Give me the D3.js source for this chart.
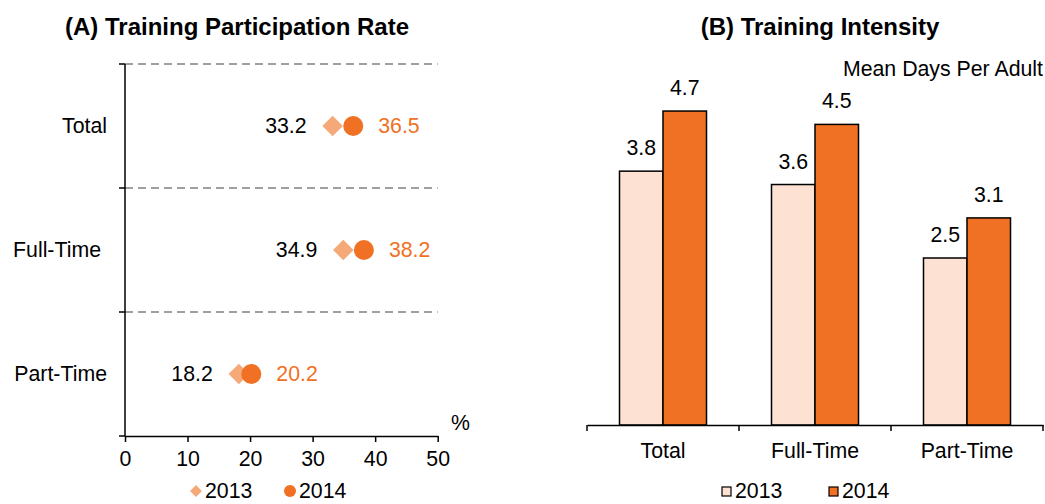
<!DOCTYPE html>
<html>
<head>
<meta charset="utf-8">
<script src="https://cdn.jsdelivr.net/npm/d3@7"></script>
<style>
  body { margin: 0; background: #fff; }
  svg text { font-family: "Liberation Sans", Arial, sans-serif; }
</style>
</head>
<body>
<div id="chart"></div>
<script>
// data
var categories = ["Total", "Full-Time", "Part-Time"];
var years = ["2013", "2014"];
var rate2013 = [33.2, 34.9, 18.2];
var rate2014 = [36.5, 38.2, 20.2];
var days2013 = [3.8, 3.6, 2.5];
var days2014 = [4.7, 4.5, 3.1];
var rateTicks = [0, 10, 20, 30, 40, 50];

var lightOrange = "#f5a878";
var orange = "#f07123";
var peach = "#fde1d3";

var svg = d3.select("#chart")
    .append("svg")
    .attr("width", 1045)
    .attr("height", 504);

var fontSize = "21.3px";

/////////////// PANEL A: PARTICIPATION RATE /////////////////////////

var xA = d3.scaleLinear()
    .domain([0, 50])
    .range([125, 437.7]);

var yA = d3.scaleBand()
    .domain(categories)
    .range([64, 436]);

svg.append("text")
    .attr("x", 237)
    .attr("y", 35)
    .attr("text-anchor", "middle")
    .style("font-size", "24px")
    .style("font-weight", "bold")
    .text("(A) Training Participation Rate");

// dashed separators
var bounds = categories.map(c => yA(c));
svg.selectAll("line.grid")
    .data(bounds)
    .enter()
    .append("line")
    .attr("class", "grid")
    .attr("x1", xA(0))
    .attr("x2", xA(50))
    .attr("y1", d => d)
    .attr("y2", d => d)
    .attr("stroke", "#808080")
    .attr("stroke-width", 1.3)
    .attr("stroke-dasharray", "8,5");

// x axis
var xAxis = d3.axisBottom(xA)
    .tickValues(rateTicks)
    .tickSize(6)
    .tickPadding(9)
    .tickSizeOuter(0);

var gx = svg.append("g")
    .attr("transform", "translate(0,436)")
    .call(xAxis);
gx.select(".domain").attr("stroke", "#000").attr("stroke-width", 1.5);
gx.selectAll(".tick line").attr("stroke", "#000").attr("stroke-width", 1.5);
gx.selectAll(".tick text").style("font-size", fontSize).attr("fill", "#000")
    .attr("font-family", null);

// y axis line + ticks at boundaries
svg.append("line")
    .attr("x1", xA(0)).attr("x2", xA(0))
    .attr("y1", 64).attr("y2", 436)
    .attr("stroke", "#000").attr("stroke-width", 1.5);

svg.selectAll("line.ytick")
    .data(bounds.concat([436]))
    .enter()
    .append("line")
    .attr("class", "ytick")
    .attr("x1", xA(0) - 6).attr("x2", xA(0))
    .attr("y1", d => d).attr("y2", d => d)
    .attr("stroke", "#000").attr("stroke-width", 1.5);

svg.selectAll("text.catA")
    .data(categories)
    .enter()
    .append("text")
    .attr("class", "catA")
    .attr("x", (d, i) => i === 1 ? 101 : 107)
    .attr("y", d => yA(d) + yA.bandwidth() / 2 + 7)
    .attr("text-anchor", "end")
    .style("font-size", fontSize)
    .text(d => d);

svg.append("text")
    .attr("x", 451)
    .attr("y", 430)
    .style("font-size", fontSize)
    .text("%");

// markers
var diamond = d3.symbol().type(d3.symbolSquare).size(210);

svg.selectAll("path.d2013")
    .data(rate2013)
    .enter()
    .append("path")
    .attr("class", "d2013")
    .attr("d", diamond)
    .attr("transform", (d, i) => `translate(${xA(d)},${yA(categories[i]) + yA.bandwidth() / 2}) rotate(45)`)
    .attr("fill", lightOrange);

svg.selectAll("circle.c2014")
    .data(rate2014)
    .enter()
    .append("circle")
    .attr("class", "c2014")
    .attr("cx", d => xA(d))
    .attr("cy", (d, i) => yA(categories[i]) + yA.bandwidth() / 2)
    .attr("r", 10)
    .attr("fill", orange);

svg.selectAll("text.v2013")
    .data(rate2013)
    .enter()
    .append("text")
    .attr("class", "v2013")
    .attr("x", d => xA(d) - 26)
    .attr("y", (d, i) => yA(categories[i]) + yA.bandwidth() / 2 + 7)
    .attr("text-anchor", "end")
    .style("font-size", fontSize)
    .text(d => d.toFixed(1));

svg.selectAll("text.v2014")
    .data(rate2014)
    .enter()
    .append("text")
    .attr("class", "v2014")
    .attr("x", d => xA(d) + 25)
    .attr("y", (d, i) => yA(categories[i]) + yA.bandwidth() / 2 + 7)
    .attr("fill", orange)
    .style("font-size", fontSize)
    .text(d => d.toFixed(1));

// legend A
var legY = 498;
var legA = svg.append("g");
legA.append("path")
    .attr("d", d3.symbol().type(d3.symbolSquare).size(70))
    .attr("transform", `translate(196,${legY - 7}) rotate(45)`)
    .attr("fill", lightOrange);
legA.append("text").attr("x", 205).attr("y", legY).style("font-size", fontSize).text(years[0]);
legA.append("circle").attr("cx", 290).attr("cy", legY - 7).attr("r", 6).attr("fill", orange);
legA.append("text").attr("x", 299).attr("y", legY).style("font-size", fontSize).text(years[1]);

/////////////// PANEL B: TRAINING INTENSITY /////////////////////////

var xB = d3.scaleBand()
    .domain(categories)
    .range([587, 1043]);

var xSub = d3.scaleBand()
    .domain(years)
    .range([0, xB.bandwidth()])
    .paddingInner(0)
    .paddingOuter(0.747);

var yB = d3.scaleLinear()
    .domain([0, 6])
    .range([425, 425 - 6 * 66.8]);

svg.append("text")
    .attr("x", 820)
    .attr("y", 35)
    .attr("text-anchor", "middle")
    .style("font-size", "24px")
    .style("font-weight", "bold")
    .text("(B) Training Intensity");

svg.append("text")
    .attr("x", 1043)
    .attr("y", 76)
    .attr("text-anchor", "end")
    .style("font-size", fontSize)
    .text("Mean Days Per Adult");

var barData = [];
categories.forEach(function(c, i) {
    barData.push({cat: c, year: years[0], value: days2013[i]});
    barData.push({cat: c, year: years[1], value: days2014[i]});
});

svg.selectAll("rect.bar")
    .data(barData)
    .enter()
    .append("rect")
    .attr("class", "bar")
    .attr("x", d => xB(d.cat) + xSub(d.year))
    .attr("y", d => yB(d.value))
    .attr("width", xSub.bandwidth())
    .attr("height", d => yB(0) - yB(d.value))
    .attr("fill", d => d.year === "2013" ? peach : orange)
    .attr("stroke", "#000")
    .attr("stroke-width", 1.5);

svg.selectAll("text.barlabel")
    .data(barData)
    .enter()
    .append("text")
    .attr("class", "barlabel")
    .attr("x", d => xB(d.cat) + xSub(d.year) + xSub.bandwidth() / 2)
    .attr("y", d => yB(d.value) - 16)
    .attr("text-anchor", "middle")
    .style("font-size", fontSize)
    .text(d => d.value.toFixed(1));

// x axis B
var xAxisB = d3.axisBottom(xB).tickSize(0).tickPadding(18);
var gxB = svg.append("g")
    .attr("transform", "translate(0,425)")
    .call(xAxisB);
gxB.select(".domain").attr("stroke", "#000").attr("stroke-width", 1.5);
gxB.selectAll(".tick text").style("font-size", fontSize).attr("fill", "#000")
    .attr("font-family", null);

var sepB = categories.map(c => xB(c)).concat([1043]);
svg.selectAll("line.btick")
    .data(sepB)
    .enter()
    .append("line")
    .attr("class", "btick")
    .attr("x1", d => d).attr("x2", d => d)
    .attr("y1", 425).attr("y2", 431)
    .attr("stroke", "#000").attr("stroke-width", 1.5);

// legend B
var legB = svg.append("g");
legB.append("rect").attr("x", 722).attr("y", legY - 11).attr("width", 9).attr("height", 9)
    .attr("fill", peach).attr("stroke", "#000").attr("stroke-width", 1.2);
legB.append("text").attr("x", 735).attr("y", legY).style("font-size", fontSize).text(years[0]);
legB.append("rect").attr("x", 829).attr("y", legY - 11).attr("width", 9).attr("height", 9)
    .attr("fill", orange).attr("stroke", "#000").attr("stroke-width", 1.2);
legB.append("text").attr("x", 842).attr("y", legY).style("font-size", fontSize).text(years[1]);
</script>
</body>
</html>
